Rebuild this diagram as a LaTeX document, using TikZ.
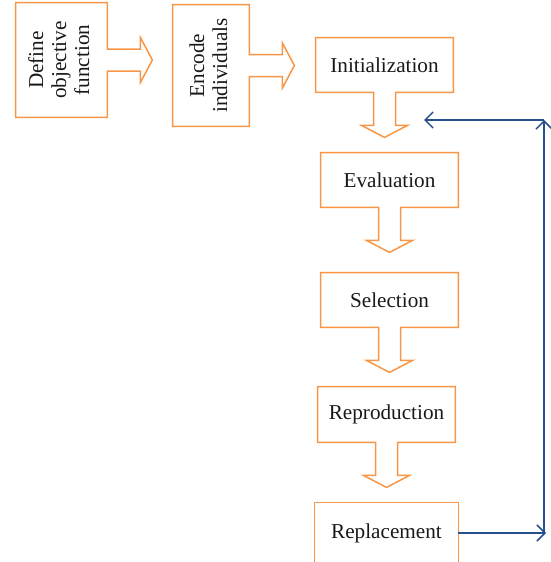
\documentclass[tikz,border=0pt]{standalone}
\usepackage{fontspec}
\setmainfont{Liberation Serif}
\usetikzlibrary{calc, arrows.meta}

\definecolor{boxorange}{HTML}{F79646}
\definecolor{loopblue}{RGB}{38,80,140}

% box with a block arrow going down
\newcommand{\downstage}[1]{%
  \draw[outline] (#1.south west) -- (#1.north west) -- (#1.north east) -- (#1.south east)
    -- ($(#1.south)+(11,0)$) -- ++(0,33) -- ++(12,0) -- ($(#1.south)+(0,45)$)
    -- ($(#1.south)+(-23,33)$) -- ++(12,0) -- ($(#1.south)+(-11,0)$) -- cycle;}

% box with a block arrow going right
\newcommand{\rightstage}[1]{%
  \draw[outline] (#1.north east) -- (#1.north west) -- (#1.south west) -- (#1.south east)
    -- ($(#1.east)+(0,11)$) -- ++(33,0) -- ++(0,11.5) -- ($(#1.east)+(45,0)$)
    -- ($(#1.east)+(33,-22.5)$) -- ++(0,11.5) -- ($(#1.east)+(0,-11)$) -- cycle;}

% upright lines of text turned a quarter
\newcommand{\upright}[1]{\rotatebox{90}{\begin{tabular}{@{}c@{}}#1\end{tabular}}}

\begin{document}
\begin{tikzpicture}[x=0.5pt, y=-0.5pt]
    \tikzstyle{stage} = [inner sep=0pt, font=\fontsize{10.6}{11.5}\selectfont, text=black!90];
    \tikzstyle{outline} = [draw=boxorange, line width=0.75pt, line join=miter];
    \tikzstyle{feedback} = [draw=loopblue, line width=0.75pt, -{Straight Barb[length=4pt,width=8pt]}];

    \clip (0,0) rectangle (551,562);

    \node[stage, minimum width=45.5pt, minimum height=57pt] (Define) at (61.5,60) {\upright{Define\\objective\\function}};
    \node[stage, minimum width=38pt, minimum height=60.5pt] (Encode) at (211,65.5) {\upright{Encode\\individuals}};

    \node[stage, minimum width=68.5pt, minimum height=27pt] (Init) at (384.5,65) {Initialization};
    \node[stage, minimum width=68.5pt, minimum height=27pt] (Eval) at (389.5,180) {Evaluation};
    \node[stage, minimum width=68.5pt, minimum height=27pt] (Select) at (389.5,300) {Selection};
    \node[stage, minimum width=68.5pt, minimum height=27.5pt] (Repro) at (386.5,414.5) {Reproduction};
    \node[stage, minimum width=71.5pt, minimum height=30pt] (Replace) at (386.5,533) {Replacement};

    \rightstage{Define}
    \rightstage{Encode}
    \downstage{Init}
    \downstage{Eval}
    \downstage{Select}
    \downstage{Repro}
    \draw[outline] (Replace.south west) -- (Replace.north west) -- (Replace.north east) -- (Replace.south east);

    \coordinate (loopR) at (546,533);
    \coordinate (loopT) at (544,120);
    \coordinate (loopL) at (424,120);

    \draw[feedback] (Replace.east) -- (loopR);
    \draw[feedback] (loopR -| loopT) -- (loopT);
    \draw[feedback] (loopT) -- (loopL);
\end{tikzpicture}
\end{document}
